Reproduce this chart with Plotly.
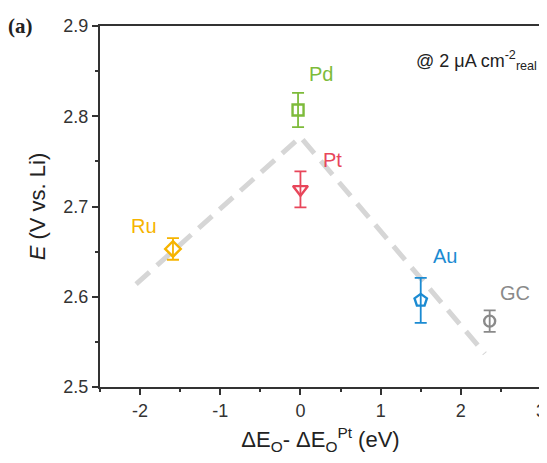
import plotly.graph_objects as go

names = ["Ru", "Pd", "Pt", "Au", "GC"]
x_vals = [-1.59, -0.03, 0.0, 1.50, 2.36]
y_vals = [2.653, 2.807, 2.719, 2.596, 2.573]
y_err = [0.012, 0.019, 0.020, 0.025, 0.012]
symbols = ["diamond-open", "square-open", "triangle-down-open", "pentagon-open", "circle-open"]
colors = ["#f6b400", "#7dbb3a", "#e8465a", "#1b8bd2", "#8a8a8a"]
label_x = [-1.95, 0.25, 0.40, 1.80, 2.68]
label_y = [2.678, 2.847, 2.751, 2.645, 2.604]

trend_x = [-2.05, 0.0, 2.30]
trend_y = [2.614, 2.777, 2.537]

x_ticks = [-2, -1, 0, 1, 2, 3]
y_ticks = [2.5, 2.6, 2.7, 2.8, 2.9]

FONT = "Liberation Sans, Arial, sans-serif"

fig = go.Figure()
fig.add_trace(go.Scatter(
    x=trend_x, y=trend_y, mode="lines",
    line=dict(color="#d6d6d6", width=5, dash="18px,10px"),
    showlegend=False, hoverinfo="skip"))

sizes = [12, 11, 13, 13, 11]
for i in range(len(names)):
    fig.add_trace(go.Scatter(
        x=[x_vals[i]], y=[y_vals[i]], mode="markers",
        marker=dict(symbol=symbols[i], size=sizes[i], color=colors[i],
                    line=dict(width=2.4, color=colors[i])),
        error_y=dict(type="data", array=[y_err[i]], color=colors[i],
                     thickness=1.8, width=6),
        showlegend=False))
    fig.add_annotation(x=label_x[i], y=label_y[i], text=names[i],
                       showarrow=False,
                       font=dict(family=FONT, size=20, color=colors[i]))

fig.add_annotation(x=0.995, y=0.945, xref="paper", yref="paper", xanchor="right",
                   text="@ 2 μA cm<sup>-2</sup><sub>real</sub>", showarrow=False,
                   font=dict(family=FONT, size=18, color="#222"))
fig.add_annotation(x=-0.18, y=1.0, xref="paper", yref="paper",
                   xanchor="center", yanchor="middle",
                   text="<b>(a)</b>", showarrow=False,
                   font=dict(family="Liberation Serif, Times New Roman, serif", size=21, color="#222"))

axis_common = dict(
    showline=True, linecolor="#333", linewidth=2, mirror=True,
    ticks="outside", ticklen=6, tickwidth=1.5, tickcolor="#333",
    showgrid=False, zeroline=False, automargin=False,
    tickfont=dict(family=FONT, size=18, color="#333"),
    minor=dict(ticks="outside", ticklen=3, tickwidth=1.5, tickcolor="#333"),
)

fig.update_xaxes(range=[-2.5, 3], tickvals=x_ticks, ticktext=[str(v) for v in x_ticks],
                 minor_dtick=0.5,
                 title=dict(text="ΔE<sub>O</sub>- ΔE<sub>O</sub><sup>Pt</sup> (eV)",
                            font=dict(family=FONT, size=22, color="#222"),
                            standoff=12),
                 **axis_common)
fig.update_yaxes(range=[2.5, 2.9], tickvals=y_ticks, ticktext=[f"{v:.1f}" for v in y_ticks],
                 minor_dtick=0.05,
                 title=dict(text="<i>E</i> (V vs. Li)",
                            font=dict(family=FONT, size=22, color="#222"),
                            standoff=12),
                 **axis_common)

fig.update_layout(width=539, height=455,
                  margin=dict(l=92, r=6, t=18, b=76),
                  plot_bgcolor="white", paper_bgcolor="white")
fig.write_html("out.html")
